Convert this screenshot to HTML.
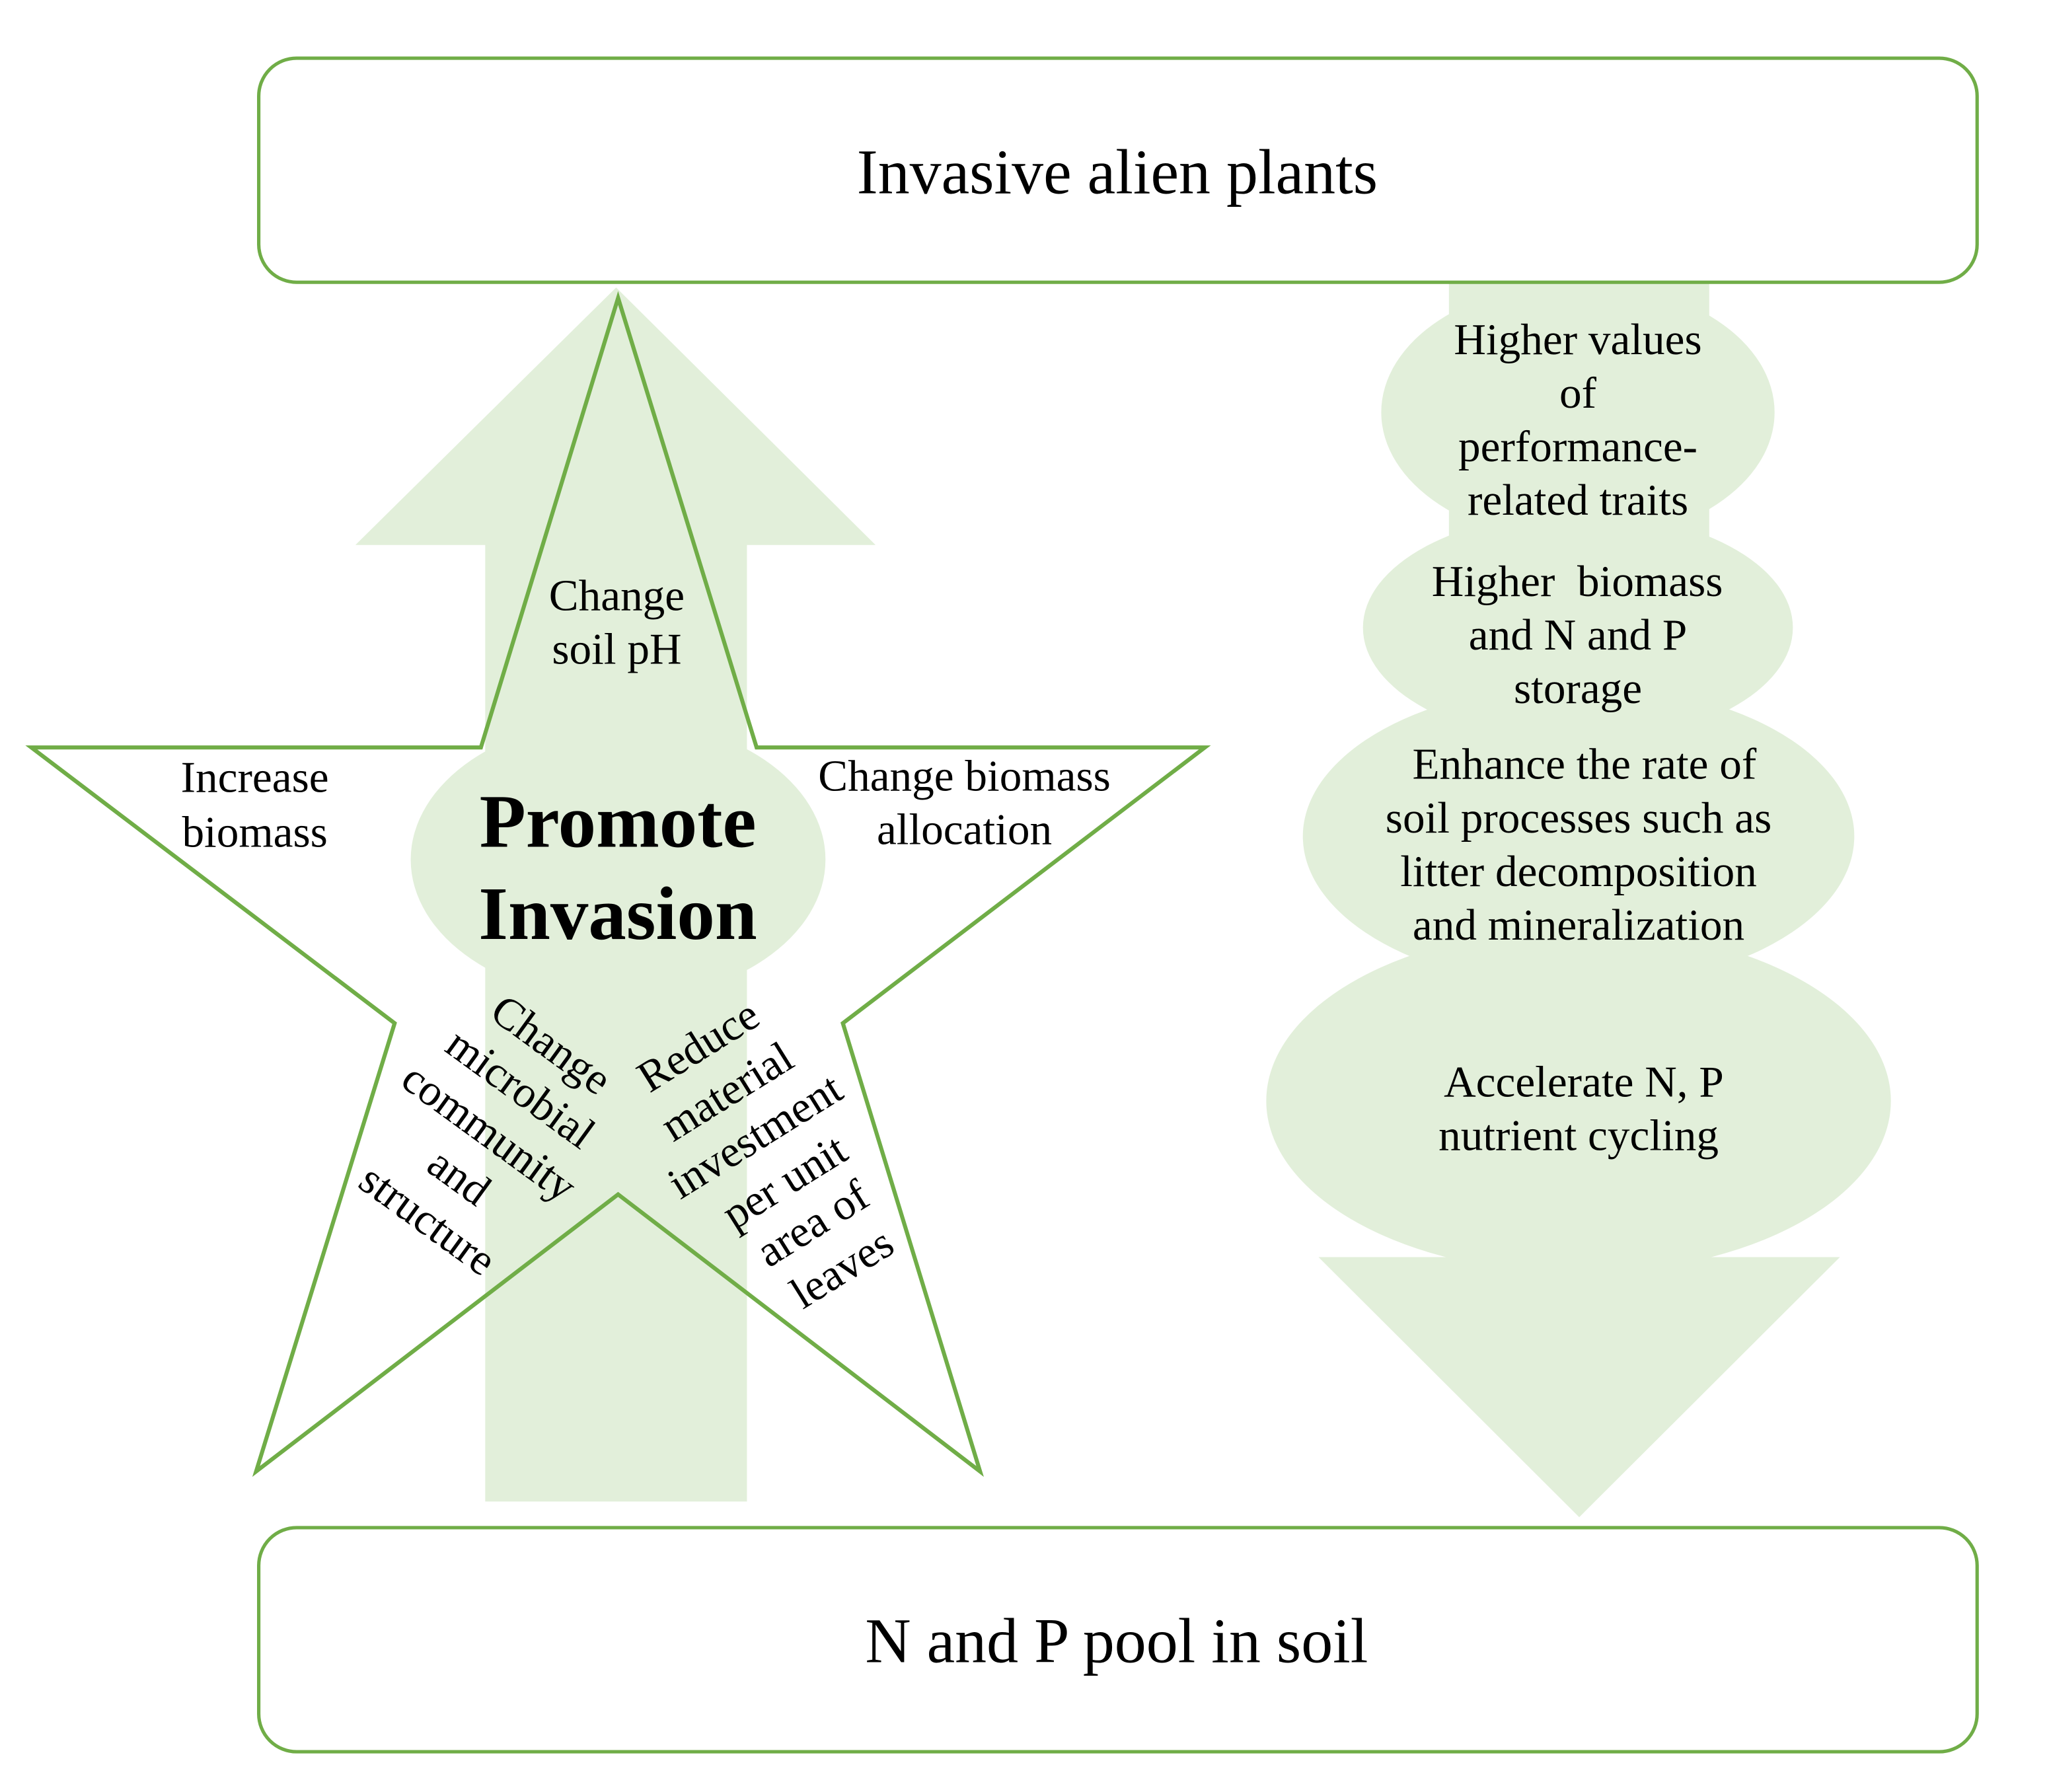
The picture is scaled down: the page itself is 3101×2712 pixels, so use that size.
<!DOCTYPE html>
<html><head><meta charset="utf-8"><style>
html,body{margin:0;padding:0;background:#fff}
svg{display:block}
text{font-family:"Liberation Serif",serif;fill:#000;text-anchor:middle;font-size:34px}
.l{font-size:48.5px}
.b{font-size:58.1px;font-weight:bold}
</style></head><body>
<svg xmlns="http://www.w3.org/2000/svg" width="3101" height="2712" viewBox="0 0 1568 1371.3">
<rect width="1568" height="1372" fill="#fff"/>
<g fill="#e2efda">
<polygon points="471.500,220 670,417 571.600,417 571.600,1149 371.300,1149 371.300,417 272,417"/>
<ellipse cx="473" cy="657.800" rx="158.700" ry="107.800"/>
<polygon points="1108.800,216 1308,216 1308,962 1408,962 1208.500,1161 1009,962 1108.800,962"/>
<ellipse cx="1207.500" cy="315.500" rx="150.500" ry="99.500"/>
<ellipse cx="1207.500" cy="480.300" rx="164.500" ry="88"/>
<ellipse cx="1208" cy="640" rx="211" ry="116"/>
<ellipse cx="1208" cy="842.500" rx="239" ry="132"/>
</g>
<g fill="none" stroke="#70ad47" stroke-width="2.600">
<rect x="198" y="44.500" width="1315" height="171.500" rx="29" ry="29"/>
<rect x="198" y="1169" width="1315" height="171.500" rx="29" ry="29"/>
<polygon points="473,228 579,572 922,572 645,783 750,1126 473,914 196,1126 302,783 24,572 368,572" stroke-width="3.100"/>
</g>
<text class="l" x="855" y="148">Invasive alien plants</text>
<text class="l" x="854.500" y="1272">N and P pool in soil</text>
<text class="b" x="472.800" y="648">Promote</text>
<text class="b" x="472.800" y="718.500">Invasion</text>
<text x="472" y="467">Change</text>
<text x="472" y="508">soil pH</text>
<text x="195" y="606">Increase</text>
<text x="195" y="648">biomass</text>
<text x="738" y="605">Change biomass</text>
<text x="738" y="646">allocation</text>
<text x="1207.500" y="271">Higher values</text>
<text x="1207.500" y="312">of</text>
<text x="1207.500" y="353">performance-</text>
<text x="1207.500" y="394">related traits</text>
<text x="1207" y="456" xml:space="preserve">Higher  biomass</text>
<text x="1207.500" y="497">and N and P</text>
<text x="1207.500" y="538">storage</text>
<text x="1212.500" y="596">Enhance the rate of</text>
<text x="1208" y="637">soil processes such as</text>
<text x="1208" y="678">litter decomposition</text>
<text x="1208" y="719">and mineralization</text>
<text x="1212" y="839">Accelerate N, P</text>
<text x="1208" y="880">nutrient cycling</text>
<g>
<text transform="translate(420,802) rotate(36)" y="8">Change</text>
<text transform="translate(396.500,835.500) rotate(36)" y="8">microbial</text>
<text transform="translate(372.500,869) rotate(36)" y="8">community</text>
<text transform="translate(349.500,903) rotate(36)" y="8">and</text>
<text transform="translate(325.500,936) rotate(36)" y="8">structure</text>
<text transform="translate(536,803) rotate(-32)" y="8">Reduce</text>
<text transform="translate(558,838) rotate(-32)" y="8">material</text>
<text transform="translate(579.500,872) rotate(-32)" y="8">investment</text>
<text transform="translate(602,907) rotate(-32)" y="8">per unit</text>
<text transform="translate(623.500,939) rotate(-32)" y="8">area of</text>
<text transform="translate(646,973) rotate(-32)" y="8">leaves</text>
</g>
</svg>
</body></html>
